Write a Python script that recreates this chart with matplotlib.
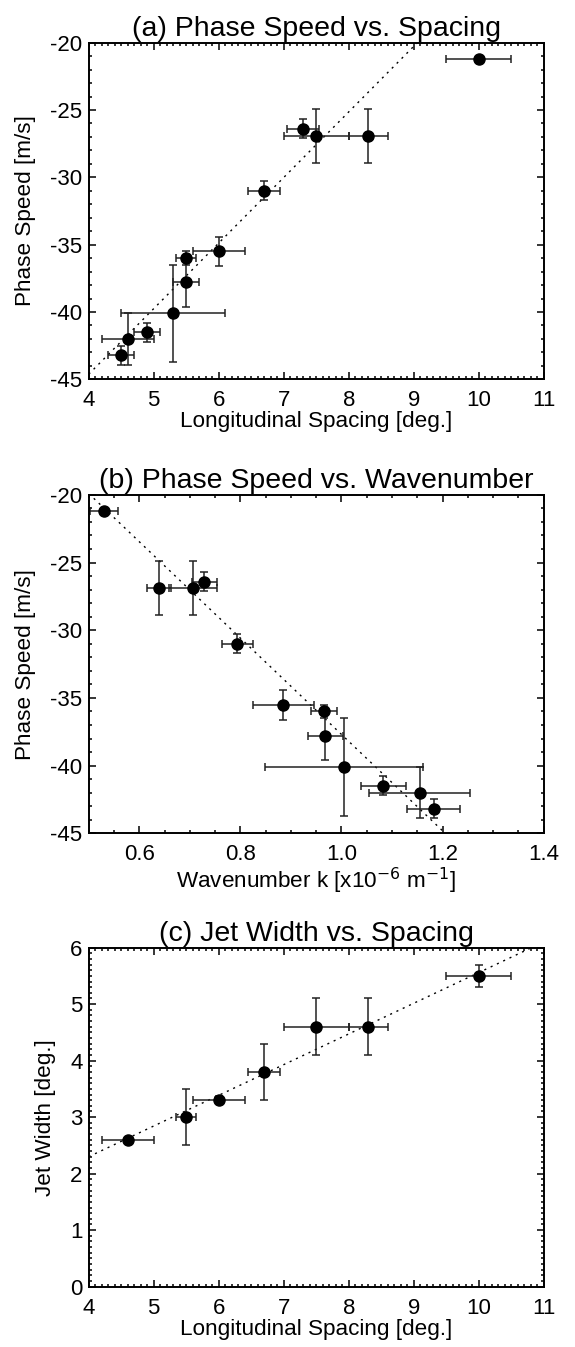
import numpy as np
import matplotlib
matplotlib.use("Agg")
import matplotlib.pyplot as plt
from matplotlib.ticker import MultipleLocator

plt.rcParams['font.family'] = ['Liberation Sans', 'DejaVu Sans']
plt.rcParams['axes.unicode_minus'] = False

# =============================
# Data
# =============================
# (a) phase speed vs. longitudinal spacing
spacing = [10.0, 7.3, 7.5, 8.3, 6.7, 6.0, 5.5, 5.5, 5.3, 4.9, 4.6, 4.5]
spacing_err = [0.5, 0.25, 0.5, 0.3, 0.25, 0.4, 0.15, 0.2, 0.8, 0.2, 0.4, 0.2]
speed = [-21.2, -26.4, -26.9, -26.9, -31.0, -35.5, -36.0, -37.8, -40.1, -41.5, -42.0, -43.2]
speed_err = [0.0, 0.7, 2.0, 2.0, 0.7, 1.1, 0.5, 1.8, 3.6, 0.7, 1.9, 0.7]

# (b) phase speed vs. wavenumber
wavenum = [0.530, 0.729, 0.639, 0.706, 0.794, 0.885, 0.966, 0.968, 1.005, 1.083, 1.155, 1.182]
wavenum_err = [0.027, 0.025, 0.023, 0.047, 0.030, 0.060, 0.026, 0.035, 0.156, 0.044, 0.100, 0.053]
speed_b = [-21.2, -26.4, -26.9, -26.9, -31.0, -35.5, -36.0, -37.8, -40.1, -41.5, -42.0, -43.2]
speed_b_err = [0.0, 0.7, 2.0, 2.0, 0.7, 1.1, 0.5, 1.8, 3.6, 0.7, 1.9, 0.7]

# (c) jet width vs. spacing
spacing_c = [4.6, 5.5, 6.0, 6.7, 7.5, 8.3, 10.0]
spacing_c_err = [0.4, 0.15, 0.4, 0.25, 0.5, 0.3, 0.5]
jet_width = [2.6, 3.0, 3.3, 3.8, 4.6, 4.6, 5.5]
jet_width_err = [0.0, 0.5, 0.07, 0.5, 0.5, 0.5, 0.2]

# fitted lines (slope, intercept)
fit_a = (4.87, -64.1)
fit_b = (-35.6, -2.1)
fit_c = (0.543, 0.128)

fig = plt.figure(figsize=(5.75, 13.47), dpi=100)

FS_TITLE = 20.5
FS_LABEL = 16.2
FS_TICK = 16


def style_axes(ax, xmaj, xmin, ymaj, ymin):
    ax.xaxis.set_major_locator(MultipleLocator(xmaj))
    ax.xaxis.set_minor_locator(MultipleLocator(xmin))
    ax.yaxis.set_major_locator(MultipleLocator(ymaj))
    ax.yaxis.set_minor_locator(MultipleLocator(ymin))
    ax.tick_params(which='both', direction='in', top=True, right=True,
                   labelsize=FS_TICK, width=1.1)
    ax.tick_params(which='major', length=5)
    ax.tick_params(which='minor', length=2.5)
    ax.tick_params(axis='x', which='both', pad=8)
    ax.tick_params(axis='y', which='both', pad=4.5)
    for s in ax.spines.values():
        s.set_linewidth(1.4)


def panel(rect, x, xe, y, ye, fit, xlim, ylim, title, xlabel, ylabel):
    ax = fig.add_axes(rect)
    xx = np.linspace(xlim[0], xlim[1], 200)
    ax.plot(xx, fit[0] * xx + fit[1], color='black', lw=1.0,
            linestyle=(0, (1.5, 3.5)))
    ax.errorbar(x, y, xerr=xe, yerr=ye, fmt='o', color='black',
                ecolor='#222222', elinewidth=1.1, capsize=3, capthick=1.1,
                markersize=8)
    ax.set_xlim(*xlim)
    ax.set_ylim(*ylim)
    ax.set_title(title, fontsize=FS_TITLE, pad=5)
    ax.set_xlabel(xlabel, fontsize=FS_LABEL, labelpad=0)
    ax.set_ylabel(ylabel, fontsize=FS_LABEL, labelpad=10)
    return ax


ax1 = panel([0.1543, 0.7184, 0.7913, 0.2499], spacing, spacing_err, speed, speed_err,
            fit_a, (4, 11), (-45, -20), "(a) Phase Speed vs. Spacing",
            "Longitudinal Spacing [deg.]", "Phase Speed [m/s]")
style_axes(ax1, 1, 0.1, 5, 1)

ax2 = panel([0.1543, 0.3814, 0.7913, 0.2512], wavenum, wavenum_err, speed_b, speed_b_err,
            fit_b, (0.5, 1.4), (-45, -20), "(b) Phase Speed vs. Wavenumber",
            "Wavenumber k [x10$^{-6}$ m$^{-1}$]", "Phase Speed [m/s]")
style_axes(ax2, 0.2, 0.05, 5, 1)
ax2.xaxis.set_major_formatter(plt.FormatStrFormatter('%.1f'))

ax3 = panel([0.1543, 0.0448, 0.7913, 0.2517], spacing_c, spacing_c_err, jet_width, jet_width_err,
            fit_c, (4, 11), (0, 6), "(c) Jet Width vs. Spacing",
            "Longitudinal Spacing [deg.]", "Jet Width [deg.]")
style_axes(ax3, 1, 0.1, 1, 0.1)

fig.savefig("out.png", dpi=100)
